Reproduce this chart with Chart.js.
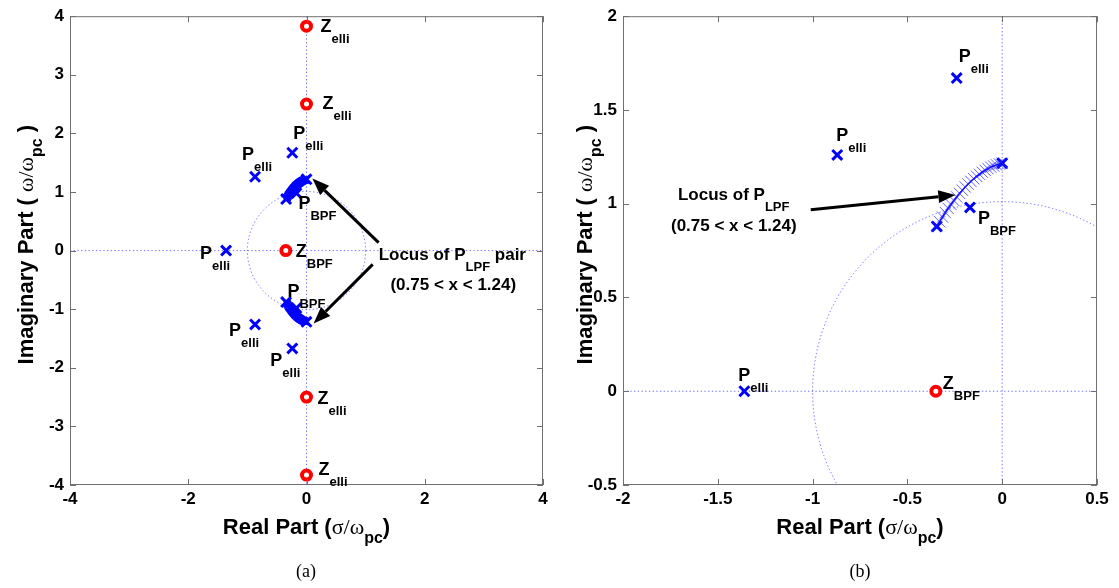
<!DOCTYPE html>
<html><head><meta charset="utf-8">
<script src="https://cdn.jsdelivr.net/npm/chart.js@4.4.1/dist/chart.umd.min.js"></script>
<style>
html,body{margin:0;padding:0;background:#fff}
body{width:1119px;height:588px;position:relative;overflow:hidden}
.panel{position:absolute;top:0;height:588px}
#pa{left:0;width:560px}
#pb{left:560px;width:559px}
.cap{position:absolute;top:561px;font:18px "Liberation Serif","Times New Roman",serif;color:#000;transform:translateX(-50%)}
</style></head><body>
<div class="panel" id="pa"><canvas id="ca" width="560" height="588"></canvas></div>
<div class="panel" id="pb"><canvas id="cb" width="559" height="588"></canvas></div>
<div class="cap" style="left:306px">(a)</div>
<div class="cap" style="left:860px">(b)</div>
<script>
// ---------------- data ----------------
const zerosElliX = [0, 0, 0, 0];
const zerosElliY = [3.83, 2.5, -2.5, -3.83];
const zeroBpfX = [-0.35];
const zeroBpfY = [0];
const polesElliX = [-1.36, -0.87, -0.87, -0.24, -0.24];
const polesElliY = [0, 1.26, -1.26, 1.67, -1.67];
const polesBpfX = [-0.17, -0.17];
const polesBpfY = [0.98, -0.98];
// locus of the P_LPF pole (upper branch), 0.75 < x < 1.24
const locusX = [-0.345,-0.330,-0.315,-0.300,-0.285,-0.270,-0.255,-0.240,-0.225,-0.210,-0.195,-0.180,
                -0.165,-0.150,-0.135,-0.120,-0.105,-0.090,-0.075,-0.060,-0.045,-0.030,-0.015,0.000];
const locusY = [0.879,0.904,0.929,0.953,0.975,0.996,1.017,1.036,1.055,1.072,1.089,1.105,
                1.119,1.133,1.146,1.157,1.168,1.178,1.187,1.195,1.201,1.207,1.212,1.216];
const unitCircleR = 1;
// tick values
const ticksAx = [-4, -2, 0, 2, 4];
const ticksAy = [-4, -3, -2, -1, 0, 1, 2, 3, 4];
const ticksBx = [-2, -1.5, -1, -0.5, 0, 0.5];
const ticksBy = [-0.5, 0, 0.5, 1, 1.5, 2];

// ---------------- helpers ----------------
const SANS = '"Liberation Sans", Arial, Helvetica, sans-serif';
const SERIF = '"Liberation Serif", "Times New Roman", serif';
const BLUE = '#0000ff';
function pts(xs, ys) { return xs.map((x, i) => ({x: x, y: ys[i]})); }
const last = locusX.length - 1;

function datasets(big) {
  const locusStyle = {showLine: true, borderColor: BLUE, borderWidth: big ? 1.5 : 1,
     pointStyle: 'crossRot', pointRadius: big ? 8 : 5, pointBorderWidth: big ? 1 : 2,
     pointBorderColor: big ? 'rgba(30,30,255,0.7)' : BLUE, pointBackgroundColor: BLUE};
  return [
    Object.assign({data: pts(locusX, locusY)}, locusStyle),
    Object.assign({data: pts(locusX, locusY.map(v => -v))}, locusStyle),
    {data: pts([locusX[0], locusX[last], locusX[0], locusX[last]],
               [locusY[0], locusY[last], -locusY[0], -locusY[last]]),
     pointStyle: 'crossRot', pointRadius: 7, pointBorderWidth: 3, pointBorderColor: BLUE},
    {data: pts(polesElliX, polesElliY), pointStyle: 'crossRot', pointRadius: 7, pointBorderWidth: 3, pointBorderColor: BLUE},
    {data: pts(polesBpfX, polesBpfY), pointStyle: 'crossRot', pointRadius: 7, pointBorderWidth: 3, pointBorderColor: BLUE},
    {data: pts(zerosElliX.concat(zeroBpfX), zerosElliY.concat(zeroBpfY)), pointStyle: 'circle', pointRadius: 4.5,
     pointBorderWidth: 4, pointBorderColor: '#ff0000', pointBackgroundColor: '#ffffff'},
    {data: pts(zerosElliX.concat(zeroBpfX), zerosElliY.concat(zeroBpfY)), pointStyle: 'circle', pointRadius: 1.8,
     pointBorderWidth: 1.2, pointBorderColor: '#3030d0', pointBackgroundColor: '#ffffff'}
  ].map(d => Object.assign({clip: 10, pointHoverRadius: d.pointRadius}, d));
}

function drawRich(ctx, x, y, parts, align) {
  let w = 0;
  parts.forEach(p => { ctx.font = p.f; w += ctx.measureText(p.t).width; });
  let cx = align === 'center' ? x - w / 2 : x;
  ctx.textBaseline = 'alphabetic'; ctx.textAlign = 'left';
  parts.forEach(p => { ctx.font = p.f; ctx.fillText(p.t, cx, y + (p.dy || 0)); cx += ctx.measureText(p.t).width; });
}

function arrow(ctx, x1, y1, x2, y2) {
  const a = Math.atan2(y2 - y1, x2 - x1), L = 17, H = 6.5;
  const bx = x2 - L * Math.cos(a), by = y2 - L * Math.sin(a);
  ctx.save();
  ctx.strokeStyle = '#000'; ctx.fillStyle = '#000'; ctx.lineWidth = 3;
  ctx.beginPath(); ctx.moveTo(x1, y1); ctx.lineTo(bx, by); ctx.stroke();
  ctx.beginPath(); ctx.moveTo(x2, y2);
  ctx.lineTo(bx + H * Math.sin(a), by - H * Math.cos(a));
  ctx.lineTo(bx - H * Math.sin(a), by + H * Math.cos(a));
  ctx.closePath(); ctx.fill();
  ctx.restore();
}

const figPlugin = {
  id: 'fig',
  beforeDatasetsDraw(chart, args, o) {
    const {ctx, chartArea: ca, scales: {x, y}} = chart;
    ctx.save();
    ctx.beginPath(); ctx.rect(ca.left, ca.top, ca.right - ca.left, ca.bottom - ca.top); ctx.clip();
    ctx.strokeStyle = 'rgba(60,60,255,0.75)'; ctx.lineWidth = 1; ctx.setLineDash([1.3, 2.4]);
    const x0 = x.getPixelForValue(0), y0 = y.getPixelForValue(0);
    ctx.beginPath(); ctx.moveTo(ca.left, y0); ctx.lineTo(ca.right, y0); ctx.stroke();
    ctx.beginPath(); ctx.moveTo(x0, ca.top); ctx.lineTo(x0, ca.bottom); ctx.stroke();
    const r = x.getPixelForValue(unitCircleR) - x0;
    ctx.beginPath(); ctx.arc(x0, y0, r, 0, Math.PI * 2); ctx.stroke();
    ctx.restore();
  },
  afterDatasetsDraw(chart, args, o) {
    const {ctx, chartArea: ca, scales: {x, y}} = chart;
    ctx.save();
    ctx.strokeStyle = '#707070'; ctx.lineWidth = 1;
    ctx.strokeRect(ca.left + 0.5, ca.top + 0.5, ca.right - ca.left - 1, ca.bottom - ca.top - 1);
    ctx.beginPath();
    x.ticks.forEach(t => { const p = Math.round(x.getPixelForValue(t.value)) + 0.5;
      ctx.moveTo(p, ca.bottom); ctx.lineTo(p, ca.bottom - 6); ctx.moveTo(p, ca.top); ctx.lineTo(p, ca.top + 6); });
    y.ticks.forEach(t => { const p = Math.round(y.getPixelForValue(t.value)) + 0.5;
      ctx.moveTo(ca.left, p); ctx.lineTo(ca.left + 6, p); ctx.moveTo(ca.right, p); ctx.lineTo(ca.right - 6, p); });
    ctx.stroke();
    ctx.fillStyle = '#000';
    o.labels.forEach(l => {
      const px = x.getPixelForValue(l.set[0][l.i]) + l.dx;
      const py = y.getPixelForValue(l.set[1][l.i]) + l.dy;
      drawRich(ctx, px, py + 6.5, [{t: l.m, f: 'bold 18px ' + SANS}, {t: l.s, f: 'bold 13px ' + SANS, dy: 11}]);
    });
    o.arrows.forEach(a => arrow(ctx, x.getPixelForValue(a.from[0]), y.getPixelForValue(a.from[1]),
                                     x.getPixelForValue(a.to[0]), y.getPixelForValue(a.to[1])));
    o.texts.forEach(t => drawRich(ctx, x.getPixelForValue(t.at[0]), y.getPixelForValue(t.at[1]) + 6, t.parts));
    const cx = (ca.left + ca.right) / 2, cy = (ca.top + ca.bottom) / 2;
    drawRich(ctx, cx, o.xTitleY, [
      {t: 'Real Part (', f: 'bold 22px ' + SANS}, {t: 'σ/ω', f: '22px ' + SERIF},
      {t: 'pc', f: 'bold 16px ' + SANS, dy: 9}, {t: ')', f: 'bold 22px ' + SANS}], 'center');
    ctx.translate(o.yTitleX, cy + o.yTitleDy); ctx.rotate(-Math.PI / 2);
    drawRich(ctx, 0, 0, [
      {t: 'Imaginary Part ( ', f: 'bold 22px ' + SANS}, {t: 'ω/ω', f: '22px ' + SERIF},
      {t: 'pc', f: 'bold 16px ' + SANS, dy: 9}, {t: ' )', f: 'bold 22px ' + SANS}], 'center');
    ctx.restore();
  }
};

const F = 'bold 17px ' + SANS, FS = 'bold 13px ' + SANS;

function makeChart(id, xr, yr, xt, yt, pad, big, fig) {
  const tickFont = {family: SANS, size: 17, weight: 'bold'};
  return new Chart(document.getElementById(id), {
    type: 'scatter',
    data: {datasets: datasets(big)},
    options: {
      responsive: false, animation: false, events: [],
      layout: {padding: pad},
      plugins: {legend: {display: false}, tooltip: {enabled: false}, fig: fig},
      scales: {
        x: {type: 'linear', min: xr[0], max: xr[1],
            afterBuildTicks: s => { s.ticks = xt.map(v => ({value: v})); },
            afterFit: s => { s.height = 30; },
            grid: {display: false, drawTicks: false}, border: {display: false},
            ticks: {color: '#000', padding: 4, autoSkip: false, maxRotation: 0, font: tickFont,
                    callback: v => String(v)}},
        y: {type: 'linear', min: yr[0], max: yr[1],
            afterBuildTicks: s => { s.ticks = yt.map(v => ({value: v})); },
            afterFit: s => { s.width = 45; },
            grid: {display: false, drawTicks: false}, border: {display: false},
            ticks: {color: '#000', padding: 6, autoSkip: false, font: tickFont,
                    callback: v => String(v)}}
      }
    },
    plugins: [figPlugin]
  });
}

const ZE = [zerosElliX, zerosElliY], ZB = [zeroBpfX, zeroBpfY], PE = [polesElliX, polesElliY], PB = [polesBpfX, polesBpfY];

makeChart('ca', [-4, 4], [-4, 4], ticksAx, ticksAy, {left: 25, right: 17, top: 10, bottom: 73}, false, {
  labels: [
    {set: ZE, i: 0, m: 'Z', s: 'elli', dx: 14, dy: -1},
    {set: ZE, i: 1, m: 'Z', s: 'elli', dx: 16, dy: -2},
    {set: ZE, i: 2, m: 'Z', s: 'elli', dx: 11, dy: 0},
    {set: ZE, i: 3, m: 'Z', s: 'elli', dx: 12, dy: -7},
    {set: PE, i: 3, m: 'P', s: 'elli', dx: 1, dy: -20},
    {set: PE, i: 1, m: 'P', s: 'elli', dx: -13, dy: -23},
    {set: PE, i: 0, m: 'P', s: 'elli', dx: -26, dy: 2},
    {set: PB, i: 0, m: 'P', s: 'BPF', dx: 2, dy: 9},
    {set: ZB, i: 0, m: 'Z', s: 'BPF', dx: 10, dy: 0},
    {set: PB, i: 1, m: 'P', s: 'BPF', dx: -9, dy: -18},
    {set: PE, i: 2, m: 'P', s: 'elli', dx: -26, dy: 5},
    {set: PE, i: 4, m: 'P', s: 'elli', dx: -22, dy: 11}
  ],
  arrows: [{from: [1.22, 0.135], to: [0.1, 1.23]}, {from: [1.12, -0.235], to: [0.12, -1.245]}],
  texts: [
    {at: [1.22, -0.05], parts: [{t: 'Locus of P', f: F}, {t: 'LPF', f: FS, dy: 11}, {t: ' pair', f: F}]},
    {at: [1.42, -0.57], parts: [{t: '(0.75 < x < 1.24)', f: F}]}
  ],
  xTitleY: 534, yTitleX: 33, yTitleDy: -6
});

makeChart('cb', [-2, 0.5], [-0.5, 2], ticksBx, ticksBy, {left: 18, right: 22, top: 10, bottom: 73}, true, {
  labels: [
    {set: PE, i: 3, m: 'P', s: 'elli', dx: 2, dy: -23},
    {set: PE, i: 1, m: 'P', s: 'elli', dx: -1, dy: -20},
    {set: PB, i: 0, m: 'P', s: 'BPF', dx: 8, dy: 10},
    {set: ZB, i: 0, m: 'Z', s: 'BPF', dx: 7, dy: -9},
    {set: PE, i: 0, m: 'P', s: 'elli', dx: -6, dy: -17}
  ],
  arrows: [{from: [-1.01, 0.968], to: [-0.247, 1.047]}],
  texts: [
    {at: [-1.71, 1.053], parts: [{t: 'Locus of P', f: F}, {t: 'LPF', f: FS, dy: 11}]},
    {at: [-1.747, 0.884], parts: [{t: '(0.75 < x < 1.24)', f: F}]}
  ],
  xTitleY: 534, yTitleX: 32, yTitleDy: -6
});
</script>
</body></html>
